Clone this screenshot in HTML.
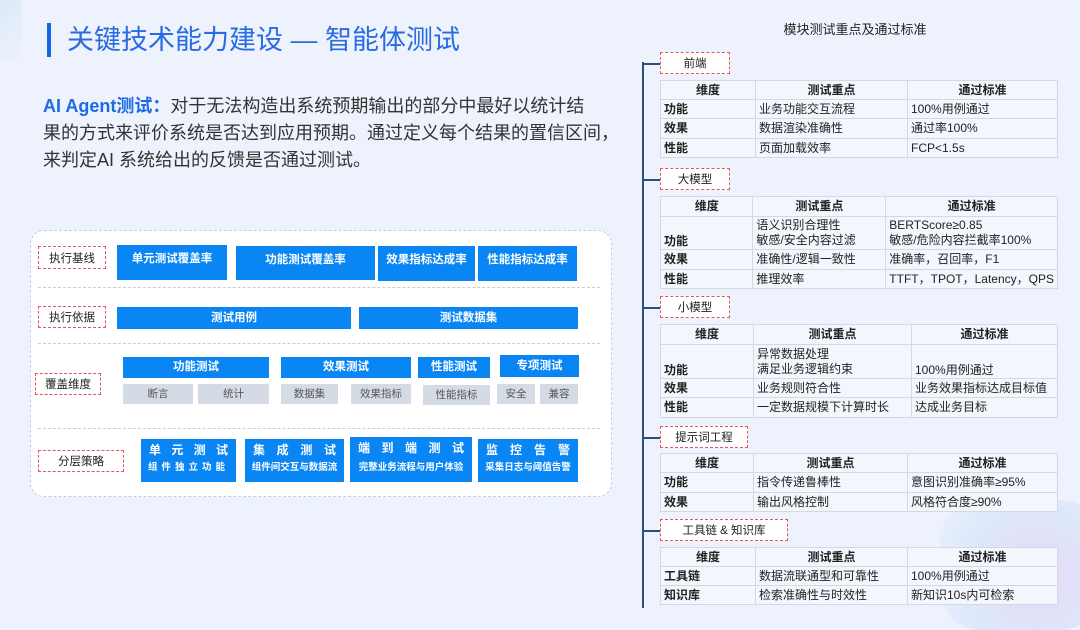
<!DOCTYPE html>
<html><head><meta charset="utf-8"><style>
*{margin:0;padding:0;box-sizing:border-box}
body{width:1080px;height:608px;overflow:hidden;background:#edf2fc;font-family:"Liberation Sans","Noto Sans CJK SC",sans-serif;position:relative}
.a{position:absolute}
.b{position:absolute;background:#0a86f4;color:#fff;font-size:11.5px;font-weight:bold;text-align:center}
.g{position:absolute;background:#d5dbe5;color:#555;font-size:10.5px;text-align:center}
.lab{position:absolute;border:1.5px dashed #e0575f;background:#fff;font-size:11.5px;color:#222;display:flex;align-items:center;justify-content:center}
.dv{position:absolute;left:38px;width:562px;border-top:1px dashed #c9ccd4}
table{position:absolute;border-collapse:collapse;font-size:12px;color:#222;background:#f3f6fc}
td{border:1px solid #d3d9e3;padding:0 3px;line-height:15px;vertical-align:middle;white-space:nowrap}
tr.h td{font-weight:bold;text-align:center}
td:first-child{font-weight:bold}
.c{position:absolute;left:643px;width:17px;height:2px;background:#2c4f7a}
.sp{display:flex;justify-content:space-between;padding:0 8px;font-size:12px;line-height:18px}
.sub{font-size:9.5px;line-height:18px;white-space:nowrap}
</style></head><body>
<div class="a" style="left:0;top:0;width:22px;height:60px;background:linear-gradient(135deg,#d3e7f5,#edf2fc);opacity:.7"></div>
<div class="a" style="left:940px;top:500px;width:160px;height:130px;border-radius:40px;background:radial-gradient(circle at 60% 60%,#e4d2f4,#d9e6fb 60%,#edf2fc);opacity:.8"></div>
<div class="a" style="left:47px;top:23px;width:4px;height:34px;background:#1666e8"></div>
<div class="a" style="left:67px;top:22px;font-size:27px;color:#2a6be2;line-height:36px;white-space:nowrap">关键技术能力建设 — 智能体测试</div>
<div class="a" style="left:43px;top:93px;width:600px;font-size:18px;line-height:27px;color:#333;white-space:nowrap"><b style="color:#1c6ae6">AI Agent测试：</b>对于无法构造出系统预期输出的部分中最好以统计结<br>果的方式来评价系统是否达到应用预期。通过定义每个结果的置信区间，<br>来判定AI 系统给出的反馈是否通过测试。</div>

<div class="a" style="left:30px;top:230px;width:582px;height:267px;background:#fff;border:1px dashed #b9d0ee;border-radius:14px"></div>
<div class="lab" style="left:38px;top:246px;width:68px;height:23px">执行基线</div>
<div class="b" style="left:117px;top:245px;width:110px;height:35px;padding-top:5px">单元测试覆盖率</div>
<div class="b" style="left:236px;top:246px;width:139px;height:34px;padding-top:5px">功能测试覆盖率</div>
<div class="b" style="left:378px;top:246px;width:97px;height:35px;padding-top:5px">效果指标达成率</div>
<div class="b" style="left:478px;top:246px;width:99px;height:35px;padding-top:5px">性能指标达成率</div>
<div class="dv" style="top:287px"></div>
<div class="lab" style="left:38px;top:306px;width:68px;height:22px">执行依据</div>
<div class="b" style="left:117px;top:307px;width:234px;height:22px;line-height:22px">测试用例</div>
<div class="b" style="left:359px;top:307px;width:219px;height:22px;line-height:22px">测试数据集</div>
<div class="dv" style="top:343px"></div>
<div class="lab" style="left:35px;top:373px;width:66px;height:22px">覆盖维度</div>
<div class="b" style="left:123px;top:357px;width:146px;height:21px;line-height:21px">功能测试</div>
<div class="b" style="left:281px;top:357px;width:130px;height:21px;line-height:21px">效果测试</div>
<div class="b" style="left:418px;top:357px;width:72px;height:21px;line-height:21px">性能测试</div>
<div class="b" style="left:500px;top:355px;width:79px;height:22px;line-height:22px">专项测试</div>
<div class="g" style="left:123px;top:384px;width:70px;height:20px;line-height:20px">断言</div>
<div class="g" style="left:198px;top:384px;width:71px;height:20px;line-height:20px">统计</div>
<div class="g" style="left:281px;top:384px;width:57px;height:20px;line-height:20px">数据集</div>
<div class="g" style="left:351px;top:384px;width:60px;height:20px;line-height:20px">效果指标</div>
<div class="g" style="left:423px;top:385px;width:67px;height:20px;line-height:20px">性能指标</div>
<div class="g" style="left:497px;top:384px;width:38px;height:20px;line-height:20px">安全</div>
<div class="g" style="left:540px;top:384px;width:38px;height:20px;line-height:20px">兼容</div>
<div class="dv" style="top:428px"></div>
<div class="lab" style="left:38px;top:450px;width:86px;height:22px">分层策略</div>
<div class="b" style="left:141px;top:439px;width:95px;height:43px;padding-top:2px"><div class="sp"><span>单</span><span>元</span><span>测</span><span>试</span></div><div class="sub" style="letter-spacing:4px">组件独立功能</div></div>
<div class="b" style="left:245px;top:439px;width:99px;height:43px;padding-top:2px"><div class="sp"><span>集</span><span>成</span><span>测</span><span>试</span></div><div class="sub">组件间交互与数据流</div></div>
<div class="b" style="left:350px;top:437px;width:122px;height:45px;padding-top:2px"><div class="sp"><span>端</span><span>到</span><span>端</span><span>测</span><span>试</span></div><div class="sub" style="line-height:22px">完整业务流程与用户体验</div></div>
<div class="b" style="left:478px;top:439px;width:100px;height:43px;padding-top:2px"><div class="sp"><span>监</span><span>控</span><span>告</span><span>警</span></div><div class="sub">采集日志与阈值告警</div></div>

<div class="a" style="left:700px;top:19px;width:310px;text-align:center;font-size:13px;color:#222">模块测试重点及通过标准</div>
<div class="a" style="left:642px;top:62px;width:2px;height:546px;background:#2c4f7a"></div>
<div class="c" style="top:63px"></div><div class="c" style="top:179px"></div><div class="c" style="top:307px"></div><div class="c" style="top:437px"></div><div class="c" style="top:530px"></div>
<div class="lab" style="left:660px;top:52px;width:70px;height:22px">前端</div>
<table style="left:660px;top:80px;width:398px"><colgroup><col style="width:95px"><col style="width:152px"><col></colgroup>
<tr class="h" style="height:19px"><td>维度</td><td>测试重点</td><td>通过标准</td></tr>
<tr style="height:19px"><td>功能</td><td>业务功能交互流程</td><td>100%用例通过</td></tr>
<tr style="height:20px"><td>效果</td><td>数据渲染准确性</td><td>通过率100%</td></tr>
<tr style="height:19px"><td>性能</td><td>页面加载效率</td><td>FCP&lt;1.5s</td></tr></table>
<div class="lab" style="left:660px;top:168px;width:70px;height:22px">大模型</div>
<table style="left:660px;top:196px;width:398px"><colgroup><col style="width:95px"><col style="width:134px"><col></colgroup>
<tr class="h" style="height:20px"><td>维度</td><td>测试重点</td><td>通过标准</td></tr>
<tr style="height:33px"><td style="vertical-align:bottom">功能</td><td>语义识别合理性<br>敏感/安全内容过滤</td><td>BERTScore≥0.85<br>敏感/危险内容拦截率100%</td></tr>
<tr style="height:20px"><td>效果</td><td>准确性/逻辑一致性</td><td>准确率，召回率，F1</td></tr>
<tr style="height:19px"><td>性能</td><td>推理效率</td><td>TTFT，TPOT，Latency，QPS</td></tr></table>
<div class="lab" style="left:660px;top:296px;width:70px;height:22px">小模型</div>
<table style="left:660px;top:324px;width:398px"><colgroup><col style="width:93px"><col style="width:158px"><col></colgroup>
<tr class="h" style="height:20px"><td>维度</td><td>测试重点</td><td>通过标准</td></tr>
<tr style="height:34px"><td style="vertical-align:bottom">功能</td><td>异常数据处理<br>满足业务逻辑约束</td><td style="vertical-align:bottom">100%用例通过</td></tr>
<tr style="height:19px"><td>效果</td><td>业务规则符合性</td><td>业务效果指标达成目标值</td></tr>
<tr style="height:20px"><td>性能</td><td>一定数据规模下计算时长</td><td>达成业务目标</td></tr></table>
<div class="lab" style="left:660px;top:426px;width:88px;height:22px">提示词工程</div>
<table style="left:660px;top:453px;width:398px"><colgroup><col style="width:93px"><col style="width:154px"><col></colgroup>
<tr class="h" style="height:19px"><td>维度</td><td>测试重点</td><td>通过标准</td></tr>
<tr style="height:20px"><td>功能</td><td>指令传递鲁棒性</td><td>意图识别准确率≥95%</td></tr>
<tr style="height:19px"><td>效果</td><td>输出风格控制</td><td>风格符合度≥90%</td></tr></table>
<div class="lab" style="left:660px;top:519px;width:128px;height:22px">工具链 &amp; 知识库</div>
<table style="left:660px;top:547px;width:398px"><colgroup><col style="width:95px"><col style="width:152px"><col></colgroup>
<tr class="h" style="height:19px"><td>维度</td><td>测试重点</td><td>通过标准</td></tr>
<tr style="height:19px"><td>工具链</td><td>数据流联通型和可靠性</td><td>100%用例通过</td></tr>
<tr style="height:19px"><td>知识库</td><td>检索准确性与时效性</td><td>新知识10s内可检索</td></tr></table>
</body></html>
